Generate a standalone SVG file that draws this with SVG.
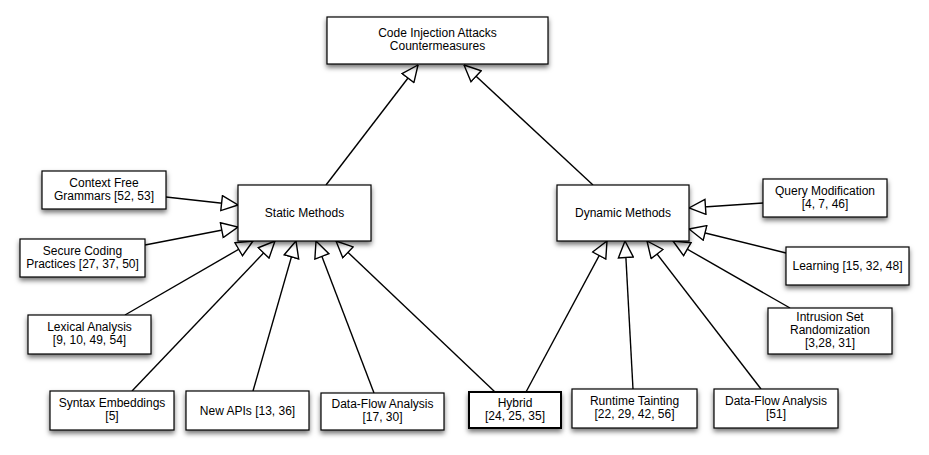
<svg xmlns="http://www.w3.org/2000/svg" width="929" height="455" viewBox="0 0 929 455">
<style>
.box{fill:#fff;stroke:#000;stroke-width:1.2;filter:url(#sh)}
.thick{stroke-width:2}
text{font-family:"Liberation Sans",Arial,sans-serif;font-size:12px;fill:#000;text-anchor:middle}
.conn line{stroke:#000;stroke-width:1.4;marker-end:url(#tri)}
</style>
<defs>
<filter id="sh" x="-20%" y="-20%" width="140%" height="160%">
<feDropShadow dx="0" dy="3" stdDeviation="2.5" flood-color="#000" flood-opacity="0.55"/>
</filter>
<marker id="tri" markerUnits="userSpaceOnUse" markerWidth="18" markerHeight="17" refX="16.5" refY="7.5" orient="auto" viewBox="-1 -1 18 17">
<path d="M0,0 L16.5,7.5 L0,15 Z" fill="#fff" stroke="#000" stroke-width="1.4"/>
</marker>
</defs>
<rect width="929" height="455" fill="#fff"/>
<g class="conn">
<line x1="326" y1="185" x2="418" y2="65"/>
<line x1="593" y1="185" x2="464" y2="65"/>
<line x1="166" y1="197" x2="238" y2="205"/>
<line x1="145" y1="245" x2="238" y2="227"/>
<line x1="125" y1="315" x2="253" y2="241"/>
<line x1="132" y1="391" x2="275" y2="241"/>
<line x1="253" y1="391" x2="296" y2="241"/>
<line x1="374" y1="393" x2="316" y2="241"/>
<line x1="495" y1="392" x2="336" y2="241"/>
<line x1="526" y1="392" x2="607" y2="241"/>
<line x1="633" y1="389" x2="625" y2="241"/>
<line x1="761" y1="389" x2="647" y2="241"/>
<line x1="790" y1="308" x2="673" y2="241"/>
<line x1="786" y1="253" x2="689" y2="229"/>
<line x1="763" y1="203" x2="689" y2="208"/>
</g>
<g id="top"><rect class="box" x="327" y="17" width="221" height="47"/><text x="437.5" y="37">Code Injection Attacks</text><text x="437.5" y="50">Countermeasures</text></g>
<g id="static"><rect class="box" x="238" y="185" width="133" height="56"/><text x="304.5" y="217">Static Methods</text></g>
<g id="dynamic"><rect class="box" x="557" y="185" width="132" height="56"/><text x="623" y="217">Dynamic Methods</text></g>
<g id="cfg"><rect class="box" x="42" y="171" width="124" height="38"/><text x="104" y="187">Context Free</text><text x="104" y="200">Grammars [52, 53]</text></g>
<g id="scp"><rect class="box" x="20" y="239" width="125" height="38"/><text x="82.5" y="255">Secure Coding</text><text x="82.5" y="268">Practices [27, 37, 50]</text></g>
<g id="lex"><rect class="box" x="28" y="315" width="123" height="39"/><text x="89.5" y="331">Lexical Analysis</text><text x="89.5" y="344">[9, 10, 49, 54]</text></g>
<g id="syn"><rect class="box" x="50" y="391" width="124" height="39"/><text x="112" y="407">Syntax Embeddings</text><text x="112" y="420">[5]</text></g>
<g id="api"><rect class="box" x="186" y="391" width="123" height="39"/><text x="247.5" y="415">New APIs [13, 36]</text></g>
<g id="dfl"><rect class="box" x="321" y="393" width="123" height="37"/><text x="382.5" y="408">Data-Flow Analysis</text><text x="382.5" y="421">[17, 30]</text></g>
<g id="hyb"><rect class="box thick" x="469" y="392" width="92" height="36"/><text x="515" y="407">Hybrid</text><text x="515" y="420">[24, 25, 35]</text></g>
<g id="rt"><rect class="box" x="572" y="389" width="125" height="39"/><text x="634.5" y="405">Runtime Tainting</text><text x="634.5" y="418">[22, 29, 42, 56]</text></g>
<g id="dfr"><rect class="box" x="714" y="389" width="124" height="39"/><text x="776" y="405">Data-Flow Analysis</text><text x="776" y="418">[51]</text></g>
<g id="isr"><rect class="box" x="768" y="308" width="124" height="46"/><text x="830" y="321">Intrusion Set</text><text x="830" y="334">Randomization</text><text x="830" y="347">[3,28, 31]</text></g>
<g id="learn"><rect class="box" x="786" y="247" width="123" height="38"/><text x="847.5" y="270">Learning [15, 32, 48]</text></g>
<g id="qm"><rect class="box" x="763" y="179" width="124" height="38"/><text x="825" y="195">Query Modification</text><text x="825" y="208">[4, 7, 46]</text></g>
</svg>
